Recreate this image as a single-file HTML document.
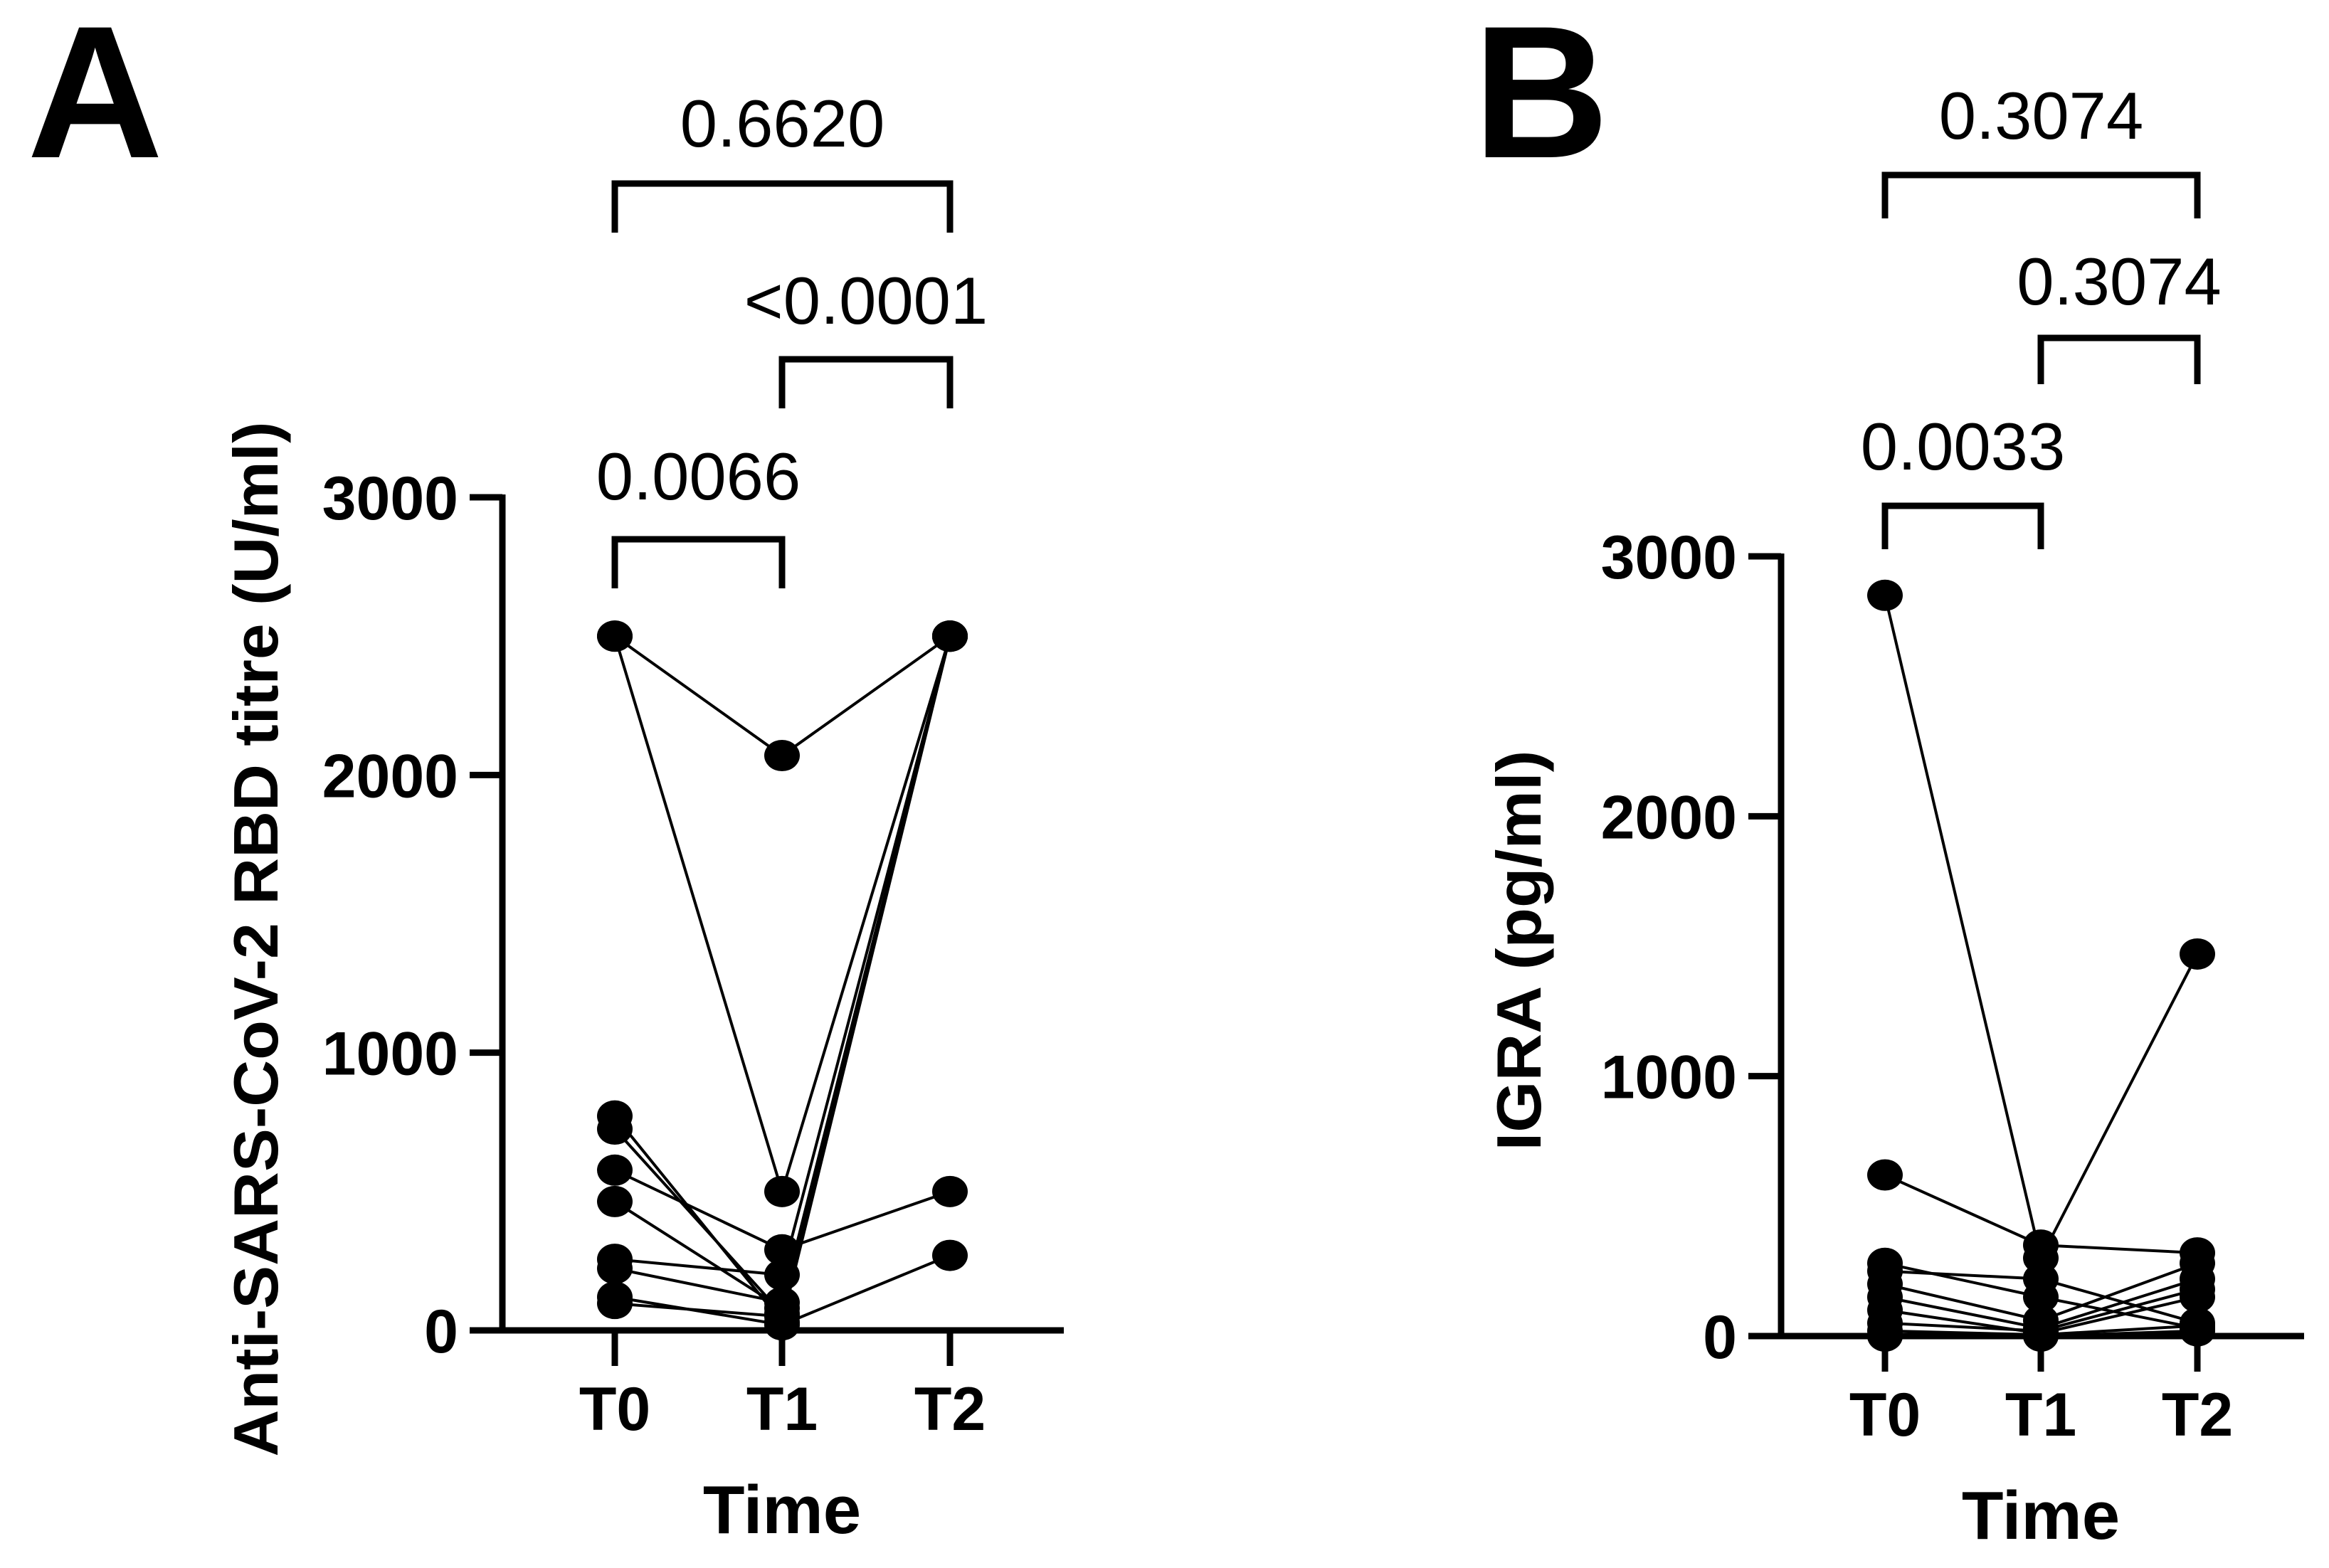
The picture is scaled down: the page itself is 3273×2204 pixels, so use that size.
<!DOCTYPE html>
<html><head><meta charset="utf-8">
<style>html,body{margin:0;padding:0;background:#fff}svg{display:block}</style>
</head><body>
<svg id="fig" width="3273" height="2204" viewBox="0 0 3273 2204" xmlns="http://www.w3.org/2000/svg" font-family="Liberation Sans, Arial, sans-serif">
<rect width="3273" height="2204" fill="#fff"/>
<g id="pa"></g>
<g id="pb"></g>
</svg>
<script>
const categories = ["T0","T1","T2"];
const yTicks = [0,1000,2000,3000];
// Panel A: anti-RBD titre, one array per subject (T0, T1, T2)
const seriesA = [
  [2500,2070,2500],[2500,500,2500],[772,30,2500],[725,60,2500],[577,290,500],
  [464,80,2500],[256,200,2500],[223,100,2500],[120,20,270],[97,50,2500]
];
// Panel B: IGRA
const seriesB = [
  [2850,300,1470],[620,350,320],[280,150,30],[250,220,50],[200,60,280],
  [150,30,220],[100,10,150],[50,20,180],[20,5,40],[0,0,20]
];
const pvalsA = ["0.6620","<0.0001","0.0066"];
const pvalsB = ["0.3074","0.3074","0.0033"];

const NS="http://www.w3.org/2000/svg";
function mk(parent,tag,attrs,text){const e=document.createElementNS(NS,tag);for(const k in attrs)e.setAttribute(k,attrs[k]);if(text!==undefined)e.textContent=text;parent.appendChild(e);return e;}

function panel(g,cfg,series,pvals){
  const xS=i=>cfg.xs[i];
  const yS=v=>cfg.y0+(cfg.y3000-cfg.y0)*v/3000;
  let t=mk(g,'text',{x:cfg.letterX,y:221,'font-size':265,'font-weight':'bold'},cfg.letter);
  
  
  let l=mk(g,'line',{x1:cfg.ax,y1:yS(3000)-4,x2:cfg.ax,y2:cfg.y0,stroke:'#000','stroke-width':9});
  
  
  l=mk(g,'line',{x1:cfg.ax-4,y1:cfg.y0,x2:cfg.xEnd,y2:cfg.y0,stroke:'#000','stroke-width':9});
  
  
  yTicks.forEach(v=>{
    const tk=mk(g,'line',{x1:cfg.ax-46,y1:yS(v),x2:cfg.ax,y2:yS(v),stroke:'#000','stroke-width':9});
    
    
    const tl=mk(g,'text',{x:cfg.ax-62,y:yS(v)+31,'font-size':86,'font-weight':'bold','text-anchor':'end'},String(v));
    
    
  });
  categories.forEach((c,i)=>{
    const tk=mk(g,'line',{x1:xS(i),y1:cfg.y0,x2:xS(i),y2:cfg.y0+50,stroke:'#000','stroke-width':9});
    
    
    const tl=mk(g,'text',{x:xS(i),y:cfg.y0+140,'font-size':86,'font-weight':'bold','text-anchor':'middle'},c);
    
    
  });
  t=mk(g,'text',{x:xS(1),y:cfg.y0+285,'font-size':96,'font-weight':'bold','text-anchor':'middle'},'Time');
  
  
  t=mk(g,'text',{x:0,y:0,'font-size':88,'font-weight':'bold','text-anchor':'middle',textLength:cfg.titleLen,lengthAdjust:'spacingAndGlyphs',transform:`translate(${cfg.titleX},${cfg.titleY}) rotate(-90)`},cfg.title);
  
  
  series.forEach(s=>{
    const pts=s.map((v,i)=>xS(i)+','+yS(v)).join(' ');
    const pl=mk(g,'polyline',{points:pts,fill:'none',stroke:'#000','stroke-width':4});
    
    
  });
  series.forEach(s=>{
    s.forEach((v,i)=>{
      const c=mk(g,'ellipse',{cx:xS(i),cy:yS(v),rx:25,ry:22,fill:'#000'});
      
      
    });
  });
  const br=[[0,2],[1,2],[0,1]];
  br.forEach((b,k)=>{
    const [yt,yl,ty]=cfg.brackets[k];
    const p=mk(g,'polyline',{points:`${xS(b[0])},${yl} ${xS(b[0])},${yt} ${xS(b[1])},${yt} ${xS(b[1])},${yl}`,fill:'none',stroke:'#000','stroke-width':9});
    
    
    const tx=mk(g,'text',{x:(xS(b[0])+xS(b[1]))/2,y:ty,'font-size':94,'text-anchor':'middle'},pvals[k]);
    
    
  });
}

panel(document.getElementById('pa'),{
  letter:'A',letterX:38,xs:[864,1099,1335],ax:706,xEnd:1495,y0:1870,y3000:699,
  title:'Anti-SARS-CoV-2 RBD titre (U/ml)',titleX:390,titleY:1320,titleLen:1455,
  brackets:[[258,327,206],[505,574,455],[758,827,702]]
},seriesA,pvalsA);
panel(document.getElementById('pb'),{
  letter:'B',letterX:2070,xs:[2649,2868,3088],ax:2503,xEnd:3238,y0:1878,y3000:782,
  title:'IGRA (pg/ml)',titleX:2165,titleY:1336,titleLen:563,
  brackets:[[246,307,195],[475,540,428],[711,772,660]]
},seriesB,pvalsB);
</script>
</body></html>
